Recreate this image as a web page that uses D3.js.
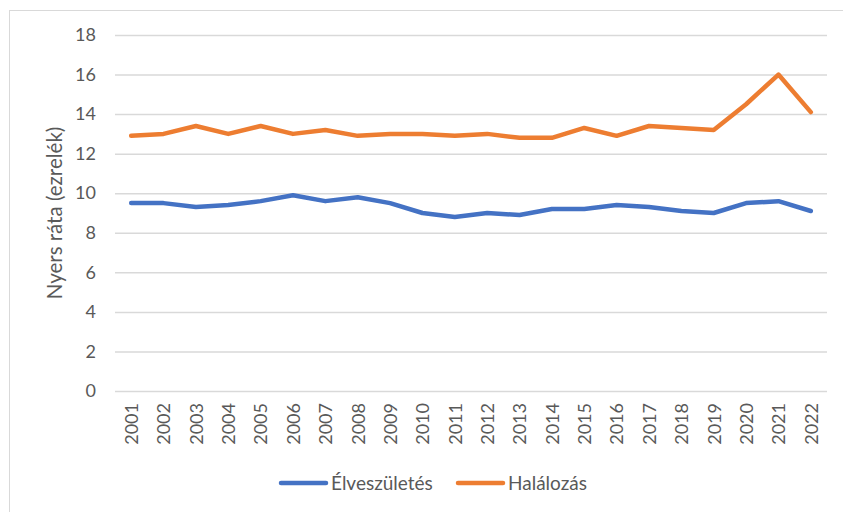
<!DOCTYPE html>
<html>
<head>
<meta charset="utf-8">
<script src="https://cdn.jsdelivr.net/npm/d3@7"></script>
<style>
  body { margin: 0; background: #fff; }
  text { font-family: Lato, "Open Sans", sans-serif; fill: #595959; }
</style>
</head>
<body>
<div id="chart"></div>
<script>
// Data
const years = ["2001","2002","2003","2004","2005","2006","2007","2008","2009","2010","2011",
               "2012","2013","2014","2015","2016","2017","2018","2019","2020","2021","2022"];
const births = [9.5, 9.5, 9.3, 9.4, 9.6, 9.9, 9.6, 9.8, 9.5, 9.0, 8.8,
                9.0, 8.9, 9.2, 9.2, 9.4, 9.3, 9.1, 9.0, 9.5, 9.6, 9.1];
const deaths = [12.9, 13.0, 13.4, 13.0, 13.4, 13.0, 13.2, 12.9, 13.0, 13.0, 12.9,
                13.0, 12.8, 12.8, 13.3, 12.9, 13.4, 13.3, 13.2, 14.5, 16.0, 14.1];
const yTicks = [0, 2, 4, 6, 8, 10, 12, 14, 16, 18];
const seriesNames = ["Élveszületés", "Halálozás"];
const seriesColors = ["#4472C4", "#ED7D31"];

const W = 843, H = 512;
const plot = { left: 115, right: 827, top: 35, bottom: 391 };

const svg = d3.select("#chart")
    .append("svg")
    .attr("width", W)
    .attr("height", H);

// chart frame
svg.append("rect")
    .attr("x", 9.5).attr("y", 10.5)
    .attr("width", 900).attr("height", 600)
    .attr("fill", "none")
    .attr("stroke", "#d9d9d9");

const x = d3.scalePoint()
    .domain(years)
    .range([plot.left, plot.right])
    .padding(0.5);

const y = d3.scaleLinear()
    .domain([0, 18])
    .range([plot.bottom, plot.top]);

// gridlines + y labels
const yAxis = svg.append("g")
    .attr("transform", `translate(${plot.left},0)`)
    .call(d3.axisLeft(y).tickValues(yTicks).tickSize(-(plot.right - plot.left)).tickPadding(19));
yAxis.select(".domain").remove();
yAxis.selectAll(".tick line").attr("stroke", "#d9d9d9").attr("stroke-width", 1.5);
yAxis.selectAll(".tick text")
    .style("font-size", "18px")
    .style("font-family", "Lato, sans-serif")
    .attr("fill", "#595959");

// x labels (rotated)
const xAxis = svg.append("g")
    .attr("transform", `translate(0,${plot.bottom})`)
    .call(d3.axisBottom(x).tickSize(0));
xAxis.select(".domain").remove();
xAxis.selectAll(".tick text")
    .style("font-size", "18px")
    .style("font-family", "Lato, sans-serif")
    .attr("fill", "#595959")
    .attr("transform", "rotate(-90)")
    .attr("x", -12)
    .attr("y", 0)
    .attr("dy", "0.35em")
    .style("text-anchor", "end");

// y axis title
svg.append("text")
    .attr("transform", `translate(62,${(plot.top + plot.bottom) / 2}) rotate(-90)`)
    .attr("text-anchor", "middle")
    .style("font-size", "20.5px")
    .text("Nyers ráta (ezrelék)");

// lines
const line = d3.line()
    .x((d, i) => x(years[i]))
    .y(d => y(d));

[births, deaths].forEach((s, k) => {
    svg.append("path")
        .datum(s)
        .attr("fill", "none")
        .attr("stroke", seriesColors[k])
        .attr("stroke-width", 4.5)
        .attr("stroke-linejoin", "round")
        .attr("stroke-linecap", "round")
        .attr("d", line);
});

// legend
const legendX = [281, 458];
seriesNames.forEach((name, k) => {
    const g = svg.append("g").attr("transform", `translate(${legendX[k]},483)`);
    g.append("line")
        .attr("x1", 0).attr("x2", 45)
        .attr("stroke", seriesColors[k])
        .attr("stroke-width", 4.5)
        .attr("stroke-linecap", "round");
    g.append("text")
        .attr("x", 50)
        .attr("dy", "0.35em")
        .style("font-size", "19px")
        .text(name);
});
</script>
</body>
</html>
